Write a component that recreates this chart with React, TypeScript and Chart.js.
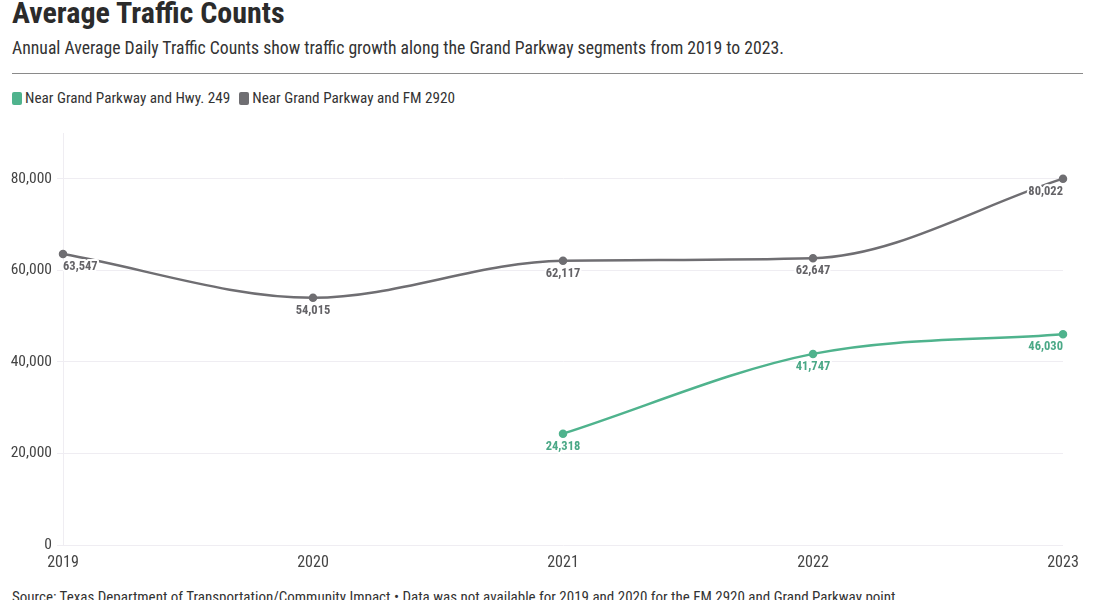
import React, { useEffect, useRef } from "react";
import { Chart, registerables } from "chart.js";

Chart.register(...registerables);

const years = ["2019", "2020", "2021", "2022", "2023"];
const hwy249 = [null, null, 24318, 41747, 46030];
const fm2920 = [63547, 54015, 62117, 62647, 80022];
const yTickValues = [0, 20000, 40000, 60000, 80000];
const seriesNames = ["Near Grand Parkway and Hwy. 249", "Near Grand Parkway and FM 2920"];

const GREEN = "#4fb38d";
const GREEN_TEXT = "#4aa886";
const GRAY = "#6f6e72";
const GRAY_TEXT = "#646367";
const FONT = "'Roboto Condensed', 'Liberation Sans Narrow', Roboto, 'DejaVu Sans', sans-serif";

const labelPlugin = {
  id: "valueLabels",
  afterDatasetsDraw(chart: any) {
    const ctx = chart.ctx;
    ctx.save();
    ctx.font = `bold 12.5px ${FONT}`;
    ctx.textBaseline = "middle";
    chart.data.datasets.forEach((ds: any, di: number) => {
      const meta = chart.getDatasetMeta(di);
      const last = ds.data.length - 1;
      meta.data.forEach((pt: any, i: number) => {
        const v = ds.data[i];
        if (v === null || v === undefined) return;
        const text = v.toLocaleString("en-US");
        ctx.textAlign = i === 0 ? "left" : i === last ? "right" : "center";
        const y = pt.y + 13;
        ctx.lineWidth = 4;
        ctx.strokeStyle = "#ffffff";
        ctx.lineJoin = "round";
        ctx.strokeText(text, pt.x, y);
        ctx.fillStyle = ds.labelColor;
        ctx.fillText(text, pt.x, y);
      });
    });
    ctx.restore();
  },
};

export default function App() {
  const ref = useRef<HTMLCanvasElement>(null);

  useEffect(() => {
    if (!ref.current) return;
    const chart = new Chart(ref.current, {
      type: "line",
      data: {
        labels: years,
        datasets: [
          {
            label: seriesNames[0],
            data: hwy249,
            borderColor: GREEN,
            backgroundColor: GREEN,
            borderWidth: 2.5,
            pointRadius: 3,
            pointHoverRadius: 3,
            cubicInterpolationMode: "monotone",
            spanGaps: false,
            labelColor: GREEN_TEXT,
          } as any,
          {
            label: seriesNames[1],
            data: fm2920,
            borderColor: GRAY,
            backgroundColor: GRAY,
            borderWidth: 2.5,
            pointRadius: 3,
            pointHoverRadius: 3,
            cubicInterpolationMode: "monotone",
            labelColor: GRAY_TEXT,
          } as any,
        ],
      },
      options: {
        animation: false,
        responsive: false,
        maintainAspectRatio: false,
        layout: { padding: { top: 23, right: 32, left: 0, bottom: 0 } },
        plugins: {
          legend: { display: false },
          tooltip: { enabled: false },
          title: { display: false },
        },
        scales: {
          x: {
            type: "category",
            offset: false,
            grid: { display: false, drawTicks: false },
            border: { display: false },
            ticks: {
              padding: 8,
              color: "#444444",
              font: { family: FONT, size: 16 },
              maxRotation: 0,
              autoSkip: false,
            },
            afterFit: (s: any) => {
              s.height = 30;
            },
          },
          y: {
            min: 0,
            max: 90000,
            grid: { color: "#efedf2", tickLength: 6, lineWidth: 1 },
            border: { display: true, color: "#efedf2" },
            ticks: {
              padding: 5,
              color: "#444444",
              font: { family: FONT, size: 15.5 },
              callback: (v: any) => Number(v).toLocaleString("en-US"),
            },
            afterBuildTicks: (s: any) => {
              s.ticks = yTickValues.map((v) => ({ value: v }));
            },
            afterFit: (s: any) => {
              s.width = 63;
            },
          },
        },
      },
      plugins: [labelPlugin],
    });
    return () => chart.destroy();
  }, []);

  const legendItem = (color: string, text: string) => (
    <span style={{ display: "inline-flex", alignItems: "center", marginRight: 9 }}>
      <span
        style={{
          display: "inline-block",
          width: 10,
          height: 13,
          borderRadius: 2,
          background: color,
          marginRight: 3,
        }}
      />
      <span>{text}</span>
    </span>
  );

  return (
    <div
      style={{
        position: "absolute",
        left: 0,
        top: 0,
        width: 1095,
        height: 600,
        overflow: "hidden",
        background: "#ffffff",
        fontFamily: FONT,
        color: "#333333",
      }}
    >
      <div
        style={{
          position: "absolute",
          left: 12,
          top: -5,
          fontSize: 30,
          lineHeight: "36px",
          fontWeight: 700,
          color: "#2b2b2b",
          whiteSpace: "nowrap",
        }}
      >
        Average Traffic Counts
      </div>
      <div
        style={{
          position: "absolute",
          left: 12,
          top: 37,
          fontSize: 17.7,
          lineHeight: "22px",
          color: "#333333",
          whiteSpace: "nowrap",
        }}
      >
        Annual Average Daily Traffic Counts show traffic growth along the Grand Parkway segments from 2019 to 2023.
      </div>
      <div style={{ position: "absolute", left: 12, top: 73, width: 1071, height: 1, background: "#8a8a8a" }} />
      <div
        style={{
          position: "absolute",
          left: 12,
          top: 88,
          fontSize: 15.2,
          lineHeight: "20px",
          color: "#333333",
          whiteSpace: "nowrap",
          display: "flex",
        }}
      >
        {legendItem(GREEN, seriesNames[0])}
        {legendItem(GRAY, seriesNames[1])}
      </div>
      <canvas
        ref={ref}
        width={1095}
        height={465}
        style={{ position: "absolute", left: 0, top: 110, width: 1095, height: 465 }}
      />
      <div
        style={{
          position: "absolute",
          left: 12,
          top: 588,
          fontSize: 15,
          lineHeight: "18px",
          color: "#333333",
          whiteSpace: "nowrap",
        }}
      >
        Source: Texas Department of Transportation/Community Impact • Data was not available for 2019 and 2020 for the FM 2920 and Grand Parkway point.
      </div>
    </div>
  );
}
